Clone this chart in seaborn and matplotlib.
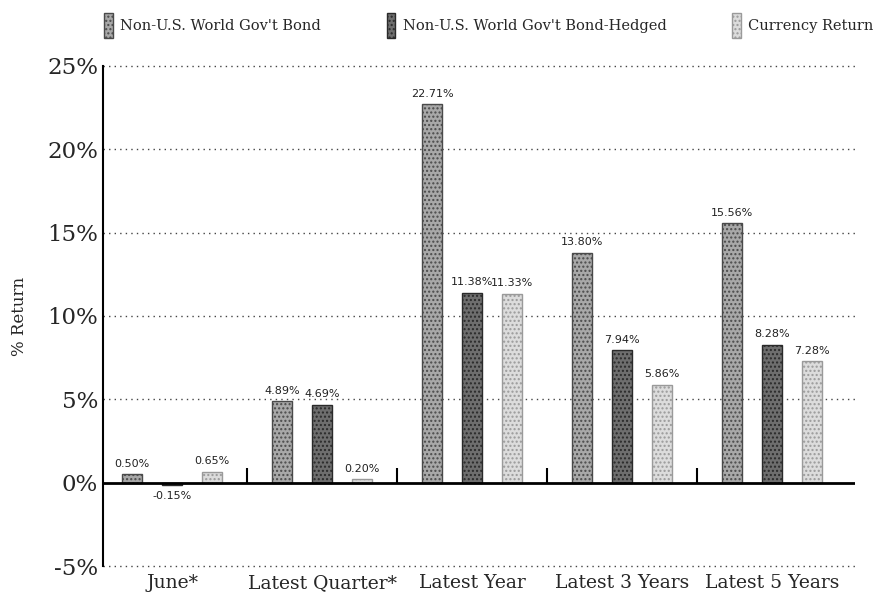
import matplotlib
matplotlib.use("Agg")
import matplotlib.pyplot as plt
import seaborn as sns
import pandas as pd
from matplotlib.patches import Patch

categories = ["June*", "Latest Quarter*", "Latest Year", "Latest 3 Years", "Latest 5 Years"]
series_names = ["Non-U.S. World Gov't Bond", "Non-U.S. World Gov't Bond-Hedged", "Currency Return"]
bond = [0.50, 4.89, 22.71, 13.80, 15.56]
hedged = [-0.15, 4.69, 11.38, 7.94, 8.28]
currency = [0.65, 0.20, 11.33, 5.86, 7.28]
yticks = [-5, 0, 5, 10, 15, 20, 25]
ytick_labels = ["-5%", "0%", "5%", "10%", "15%", "20%", "25%"]

rows = []
for name, vals in zip(series_names, [bond, hedged, currency]):
    for c, v in zip(categories, vals):
        rows.append({"Period": c, "Series": name, "Return": v})
df = pd.DataFrame(rows)

sns.set_style("white")
plt.rcParams["font.family"] = ["DejaVu Serif"]
plt.rcParams["hatch.color"] = "#8a8a8a"

colors = ["#a8a8a8", "#6e6e6e", "#dcdcdc"]
edges = ["#4a4a4a", "#2a2a2a", "#9a9a9a"]

fig = plt.figure(figsize=(8.73, 5.99), dpi=100)
ax = fig.add_axes([0.118, 0.055, 0.861, 0.835])

sns.barplot(data=df, x="Period", y="Return", hue="Series", order=categories,
            hue_order=series_names, palette=colors, gap=0.5, legend=False, ax=ax,
            errorbar=None)

for i, cont in enumerate(ax.containers):
    for p in cont:
        p.set_edgecolor(edges[i])
        p.set_linewidth(1.0)
        p.set_hatch("....")
    ax.bar_label(cont, fmt="%.2f%%", padding=4, fontsize=8,
                 family="DejaVu Sans", color="#222222")

ax.set_ylim(-5, 25)
ax.set_xlim(-0.46, 4.55)
for y in yticks:
    if y != 0:
        ax.axhline(y, color="#444444", lw=1.0, ls=(0, (1, 3)), zorder=0, clip_on=False)
ax.axhline(0, color="black", lw=2, zorder=3)
ax.vlines([0.5, 1.5, 2.5, 3.5], 0, 0.9, color="black", lw=1.5, zorder=3)

ax.set_yticks(yticks)
ax.set_yticklabels(ytick_labels, fontsize=16.5)
ax.tick_params(axis="both", length=0)
ax.tick_params(axis="x", labelsize=13.5, pad=6)
ax.set_xlabel("")
ax.set_ylabel("% Return", fontsize=12, labelpad=14)

for s in ["top", "right", "bottom"]:
    ax.spines[s].set_visible(False)
ax.spines["left"].set_color("black")
ax.spines["left"].set_linewidth(1.5)

handles = [Patch(facecolor=c, edgecolor=e, hatch="....") for c, e in zip(colors, edges)]
fig.legend(handles, series_names, loc="upper center", bbox_to_anchor=(0.56, 1.0),
           ncol=3, frameon=False, fontsize=10.5, handlelength=0.6, handleheight=2.2,
           columnspacing=4.5, handletextpad=0.5)

fig.savefig("out.png", dpi=100)
